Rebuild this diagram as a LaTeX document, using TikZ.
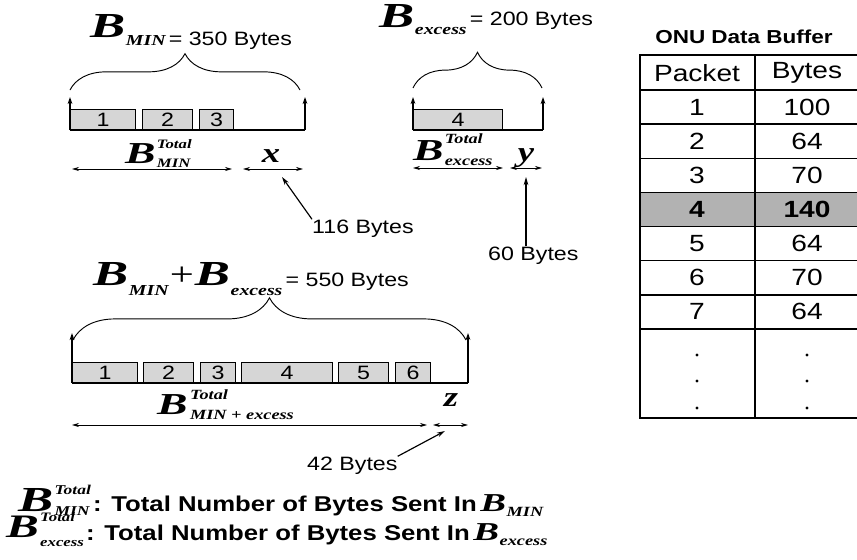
\documentclass[tikz,border=0pt]{standalone}
\usepackage{fontspec}
\setsansfont{Liberation Sans}[FakeStretch=1.2]
\newfontfamily\symfont{Liberation Serif}[FakeStretch=1.3]
\newfontfamily\bigBfont{Liberation Serif}[FakeStretch=1.5]
\usetikzlibrary{arrows.meta,decorations.pathreplacing}

\newcommand{\labtxt}{\sffamily\fontsize{16.5}{18}\selectfont}
\newcommand{\symB}[1]{{\bigBfont\bfseries\itshape\fontsize{#1}{#1}\selectfont B}}
\newcommand{\symS}[2]{\hbox{\symfont\bfseries\itshape\fontsize{#1}{#1}\selectfont #2}}
\newcommand{\symV}[1]{{\symfont\bfseries\itshape\fontsize{24}{24}\selectfont #1}}
% B with a subscript: size of B, size of script, drop, script
\newcommand{\Bsub}[4]{\symB{#1}\kern0.5pt\lower#3\symS{#2}{#4}}
% B with Total on top: size of B, size of scripts, rise, drop, subscript
\newcommand{\Btot}[5]{\symB{#1}\kern1pt\rlap{\raise#3\symS{#2}{Total}}\lower#4\symS{#2}{#5}}

\begin{document}
\begin{tikzpicture}[x=0.03cm, y=-0.03cm,
    lab/.style={font=\labtxt, inner sep=0pt},
    pkt/.style={draw, line width=0.8pt, fill=black!16, anchor=south west, inner sep=0pt,
                minimum height=0.6cm, minimum width=#1*0.03cm, font=\labtxt},
    base/.style={line width=1.2pt},
    up/.style={line width=1.2pt, -{Stealth[length=6pt,width=4pt]}},
    span/.style={line width=0.8pt, {Stealth[length=6pt,width=3.5pt]}-{Stealth[length=6pt,width=3.5pt]}},
    ptr/.style={line width=1pt, -{Stealth[length=7pt,width=4pt]}},
    brc/.style={decorate, line width=0.8pt, decoration={brace, amplitude=#1}},
    cell/.style={font=\sffamily\fontsize{20}{22}\selectfont, inner sep=0pt},
    leg/.style={font=\sffamily\bfseries\fontsize{18.3}{20}\selectfont, inner sep=0pt, anchor=base west}
  ]
  \useasboundingbox (0,0) rectangle (857,560);
  \clip (0,0) rectangle (857,560);

  % B_MIN window
  \coordinate (aL) at (70,130);
  \coordinate (aR) at (305,130);
  \draw[base] (aL) -- (aR);
  \draw[up] (aL) -- ++(0,-33);
  \draw[up] (aR) -- ++(0,-33);
  \foreach \x/\w/\n in {70/65/1, 142/50/2, 199/34/3}
    \node[pkt=\w] (a\n) at (\x,130) {\n};
  \draw[brc=31pt] (70,90) -- (300,90);
  \node[anchor=base west, inner sep=0pt] (bmin) at (90,37)
    {\Bsub{30}{13}{7.5pt}{MIN}\lower7.5pt\hbox{\labtxt\,= 350 Bytes}};
  \node[anchor=base west, inner sep=0pt] (tmin) at (125,163) {\Btot{26}{11}{12.5pt}{3.5pt}{MIN}};
  \coordinate (sa0) at (72,169);
  \coordinate (sa1) at (232,169);
  \draw[span] (sa0) -- (sa1);
  \node[anchor=base, inner sep=0pt] (xv) at (271,162) {\symV{x}};
  \coordinate (sx0) at (243,169);
  \coordinate (sx1) at (303,169);
  \draw[span] (sx0) -- (sx1);
  \coordinate (xtip) at (282,177);
  \node[lab, anchor=base west] (t116) at (312,233) {116 Bytes};
  \draw[ptr] (t116.north west) -- (xtip);

  % B_excess window
  \coordinate (bL) at (413,130);
  \coordinate (bR) at (543,130);
  \draw[base] (bL) -- (bR);
  \draw[up] (bL) -- ++(0,-33);
  \draw[up] (bR) -- ++(0,-33);
  \node[pkt=89] (b4) at (413,130) {4};
  \draw[brc=30.5pt] (413,88) -- (542,88);
  \node[anchor=base west, inner sep=0pt] (bexc) at (379,27)
    {\Bsub{30}{13}{6pt}{excess}\raise1.5pt\hbox{\labtxt\,= 200 Bytes}};
  \node[anchor=base west, inner sep=0pt] (texc) at (413,160) {\Btot{26}{12}{14pt}{5pt}{excess}};
  \coordinate (sb0) at (413,168);
  \coordinate (sb1) at (503,168);
  \draw[span] (sb0) -- (sb1);
  \node[anchor=base, inner sep=0pt] (yv) at (526,161) {\symV{y}};
  \coordinate (sy0) at (510,168);
  \coordinate (sy1) at (542,168);
  \draw[span] (sy0) -- (sy1);
  \coordinate (ytip) at (526,177);
  \node[lab, anchor=base west] (t60) at (488,260) {60 Bytes};
  \draw[ptr] (t60.north -| ytip) -- (ytip);

  % B_MIN + B_excess window
  \coordinate (cL) at (72,383);
  \coordinate (cR) at (468,383);
  \draw[base] (cL) -- (cR);
  \draw[up] (cL) -- ++(0,-50);
  \draw[up] (cR) -- ++(0,-50);
  \foreach \x/\w/\n in {72/65/1, 143/50/2, 200/35/3, 241/91/4, 338/50/5, 395/35/6}
    \node[pkt=\w] (c\n) at (\x,383) {\n};
  \draw[brc=36pt] (73,340) -- (466,340);
  \node[anchor=base west, inner sep=0pt] (bsum) at (93,285)
    {\Bsub{30}{13}{9pt}{MIN}\kern1pt{\symfont\fontsize{28}{28}\selectfont +}\kern1pt\Bsub{30}{13}{9pt}{excess}\lower1pt\hbox{\labtxt\,= 550 Bytes}};
  \node[anchor=base west, inner sep=0pt] (tsum) at (157,414)
    {\symB{26}\kern2pt\rlap{\raise12pt\symS{12}{Total}}\lower5pt\symS{12}{MIN\ + excess}};
  \coordinate (sc0) at (72,425);
  \coordinate (sc1) at (427,425);
  \draw[span] (sc0) -- (sc1);
  \node[anchor=base, inner sep=0pt] (zv) at (451,406) {\symV{z}};
  \coordinate (sz0) at (433,425);
  \coordinate (sz1) at (468,425);
  \draw[span] (sz0) -- (sz1);
  \coordinate (ztip) at (445,431);
  \node[lab, anchor=base west] (t42) at (307,470) {42 Bytes};
  \draw[ptr] (t42.north east) -- (ztip);

  % legend
  \node[anchor=base west, inner sep=0pt] (lg1) at (18,511) {\Btot{30}{11.5}{14pt}{4pt}{MIN}};
  \node[leg] (lt1) at (93,511) {: Total Number of Bytes Sent In\,\Bsub{22}{12}{5pt}{MIN}};
  \node[anchor=base west, inner sep=0pt] (lg2) at (6,537) {\Btot{28}{11}{13pt}{8pt}{excess}};
  \node[leg] (lt2) at (86,540) {: Total Number of Bytes Sent In\,\Bsub{22}{12}{5pt}{excess}};

  % ONU data buffer
  \node[font=\sffamily\bfseries\fontsize{16}{18}\selectfont] (title) at (744,37) {ONU Data Buffer};
  \fill[black!30] (640,{90+34.14*3}) rectangle (862,{90+34.14*4});
  \foreach \i in {0,...,7}
    \draw[line width=1.2pt] (640,{90+34.14*\i}) -- (862,{90+34.14*\i});
  \draw[line width=1.6pt] (755,55) -- (755,418);
  \draw[line width=2.4pt] (862,55) -- (640,55) -- (640,418) -- (862,418);
  \node[cell] (hp) at (697,73) {Packet};
  \node[cell] (hb) at (807,73) {Bytes};
  \foreach \p/\b [count=\i] in {1/100, 2/64, 3/70, 4/140, 5/64, 6/70, 7/64} {
    \node[cell] (p\i) at (697,{90+34.14*(\i-0.5)}) {\ifnum\i=4 \bfseries\fi\p};
    \node[cell] (b\i) at (807,{90+34.14*(\i-0.5)}) {\ifnum\i=4 \bfseries\fi\b};
  }
  \foreach \y in {355,381,408} {
    \fill (697,\y) circle (1.3pt);
    \fill (807,\y) circle (1.3pt);
  }
\end{tikzpicture}
\end{document}
